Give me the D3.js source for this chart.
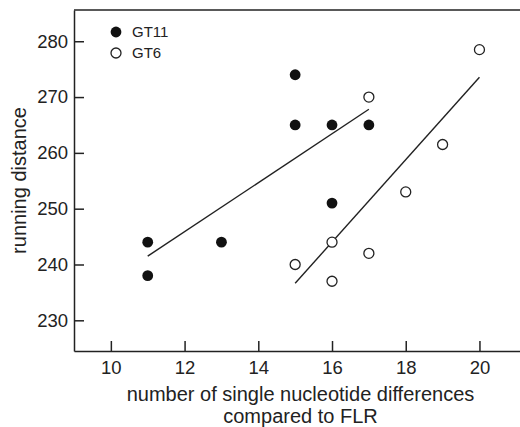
<!DOCTYPE html>
<html>
<head>
<meta charset="utf-8">
<script src="https://cdn.jsdelivr.net/npm/d3@7"></script>
<style>
  body { margin: 0; background: #fff; }
  text { font-family: "Liberation Sans", Arial, sans-serif; fill: #222; }
</style>
</head>
<body>
<div id="chart"></div>
<script>
var vWidth = 520;
var vHeight = 427;

// GT11 (filled) and GT6 (open) measurements
var gt11X = [11, 11, 13, 15, 15, 16, 17, 16];
var gt11Y = [244, 238, 244, 274, 265, 265, 265, 251];
var gt6X = [15, 16, 16, 17, 17, 18, 19, 20];
var gt6Y = [240, 244, 237, 242, 270, 253, 261.5, 278.5];

var xTicks = [10, 12, 14, 16, 18, 20];
var yTicks = [230, 240, 250, 260, 270, 280];
var seriesNames = ["GT11", "GT6"];

var padLeft = 74, padTop = 10, padBottom = 351, padRight = 520;

var svg = d3.select("#chart")
    .append("svg")
    .attr("width", vWidth)
    .attr("height", vHeight);

var x = d3.scaleLinear().domain([9, 21.1]).range([padLeft, padRight]);
var y = d3.scaleLinear().domain([224.5, 285.6]).range([padBottom, padTop]);

// axes, ticks pointing inward
var xAxis = svg.append("g")
    .attr("transform", "translate(0," + padBottom + ")")
    .call(d3.axisBottom(x).tickValues(xTicks).tickSizeInner(-10).tickSizeOuter(0).tickPadding(10));

var yAxis = svg.append("g")
    .attr("transform", "translate(" + padLeft + ",0)")
    .call(d3.axisLeft(y).tickValues(yTicks).tickSizeInner(-10).tickSizeOuter(0).tickPadding(6));

[xAxis, yAxis].forEach(function (a) {
    a.selectAll("path, line").attr("stroke", "#222").attr("stroke-width", 1.5);
    a.selectAll("text").attr("font-size", 18.5).attr("font-family", "Liberation Sans, Arial, sans-serif").attr("fill", "#222");
});

// top border
svg.append("line")
    .attr("x1", padLeft).attr("x2", padRight)
    .attr("y1", padTop).attr("y2", padTop)
    .attr("stroke", "#222").attr("stroke-width", 1.5);

// least squares fit line over the x range of each group
function fitLine(xs, ys) {
    var mx = d3.mean(xs), my = d3.mean(ys);
    var sxy = d3.sum(xs, (v, i) => (v - mx) * (ys[i] - my));
    var sxx = d3.sum(xs, v => (v - mx) * (v - mx));
    var b = sxy / sxx, a = my - b * mx;
    var x0 = d3.min(xs), x1 = d3.max(xs);
    return [[x0, a + b * x0], [x1, a + b * x1]];
}

[[gt11X, gt11Y], [gt6X, gt6Y]].forEach(function (s) {
    svg.append("path")
        .datum(fitLine(s[0], s[1]))
        .attr("d", d3.line().x(d => x(d[0])).y(d => y(d[1])))
        .attr("fill", "none")
        .attr("stroke", "#222")
        .attr("stroke-width", 1.4);
});

svg.selectAll(".gt11")
    .data(gt11X.map((v, i) => [v, gt11Y[i]]))
    .enter().append("circle")
    .attr("cx", d => x(d[0]))
    .attr("cy", d => y(d[1]))
    .attr("r", 5.4)
    .attr("fill", "#111");

svg.selectAll(".gt6")
    .data(gt6X.map((v, i) => [v, gt6Y[i]]))
    .enter().append("circle")
    .attr("cx", d => x(d[0]))
    .attr("cy", d => y(d[1]))
    .attr("r", 5)
    .attr("fill", "#fff")
    .attr("stroke", "#222")
    .attr("stroke-width", 1.3);

// legend
var legend = svg.selectAll(".legend")
    .data(seriesNames)
    .enter().append("g")
    .attr("transform", (d, i) => "translate(116," + (32 + i * 21) + ")");

legend.append("circle")
    .attr("r", (d, i) => i === 0 ? 5.4 : 5)
    .attr("fill", (d, i) => i === 0 ? "#111" : "#fff")
    .attr("stroke", (d, i) => i === 0 ? "none" : "#222")
    .attr("stroke-width", 1.3);

legend.append("text")
    .attr("x", 16)
    .attr("dy", "0.36em")
    .attr("font-size", 15)
    .text(d => d);

// axis titles
svg.append("text")
    .attr("transform", "translate(26," + ((padTop + padBottom) / 2) + ") rotate(-90)")
    .attr("text-anchor", "middle")
    .attr("font-size", 20)
    .text("running distance");

svg.append("text")
    .attr("x", (125 + 476) / 2)
    .attr("y", 401)
    .attr("text-anchor", "middle")
    .attr("font-size", 20)
    .text("number of single nucleotide differences");

svg.append("text")
    .attr("x", (125 + 476) / 2)
    .attr("y", 423)
    .attr("text-anchor", "middle")
    .attr("font-size", 20)
    .text("compared to FLR");
</script>
</body>
</html>
